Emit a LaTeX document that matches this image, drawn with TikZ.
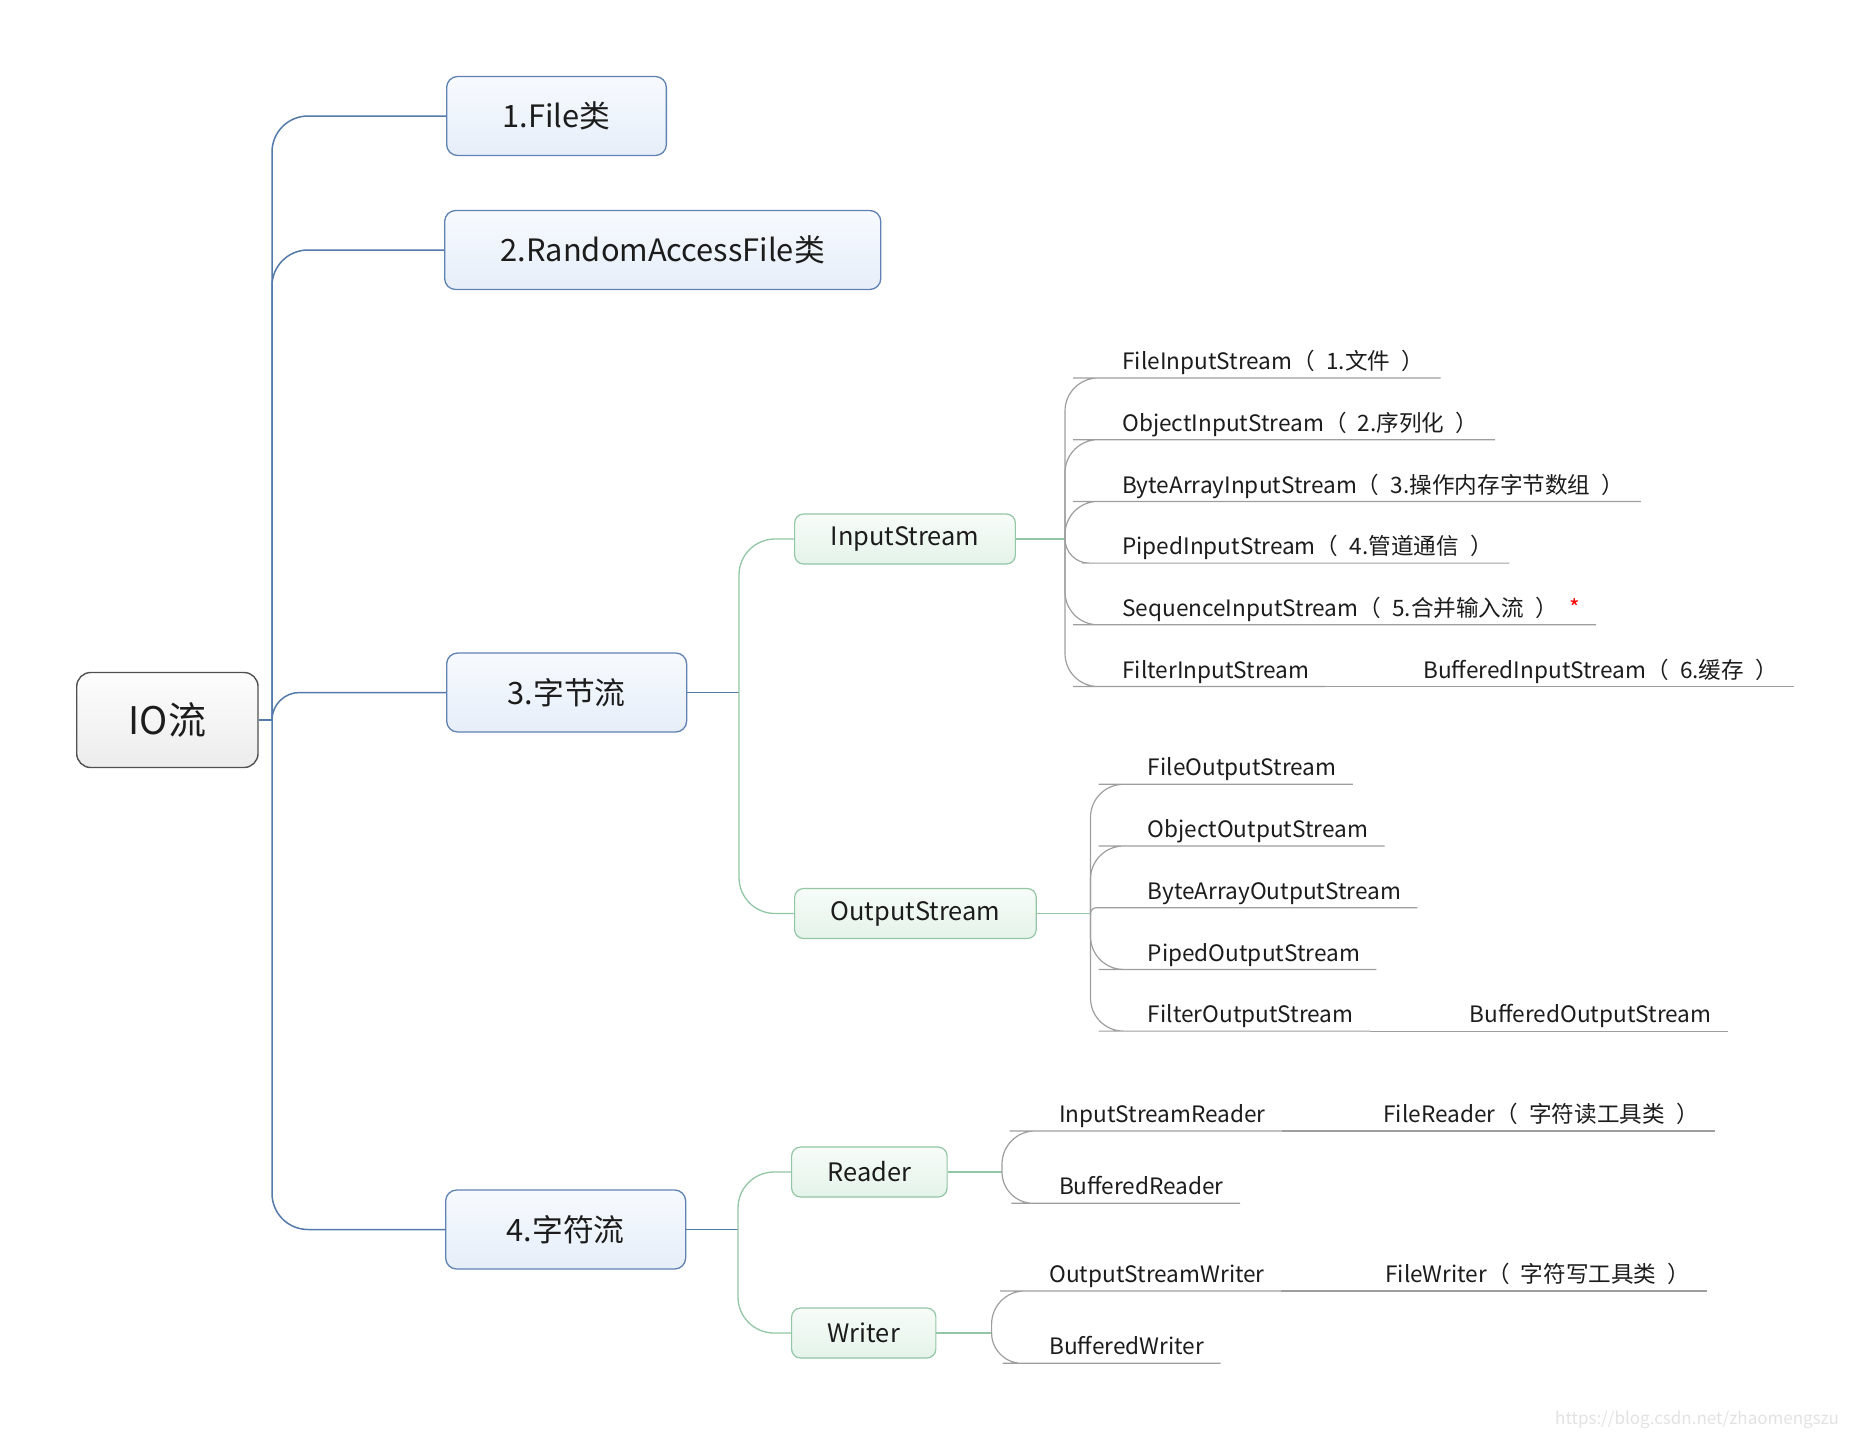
\documentclass[tikz,border=0pt]{standalone}
\usepackage{fontspec}
\setmainfont{Noto Sans CJK SC}
\definecolor{trunkblue}{RGB}{84,122,170}
\definecolor{topicline}{RGB}{96,130,178}
\definecolor{topictop}{RGB}{247,250,254}
\definecolor{topicbot}{RGB}{230,238,249}
\definecolor{rootline}{RGB}{80,80,80}
\definecolor{roottop}{RGB}{253,253,253}
\definecolor{rootbot}{RGB}{236,236,236}
\definecolor{subgreen}{RGB}{146,198,164}
\definecolor{subtop}{RGB}{247,252,248}
\definecolor{subbot}{RGB}{228,243,233}
\definecolor{leafgray}{RGB}{158,158,158}
\definecolor{inkdark}{RGB}{28,28,28}
\definecolor{markgray}{RGB}{226,226,226}
\newcommand\inparen[1]{（\enspace#1\enspace）}
\tikzset{
  rootbox/.style={draw=rootline, line width=0.7pt, rounded corners=7pt,
    top color=roottop, bottom color=rootbot, inner xsep=26pt,
    minimum height=47.5pt, anchor=west, text=inkdark,
    font=\fontsize{19}{22}\selectfont},
  topicbox/.style={draw=topicline, line width=0.65pt, rounded corners=5.5pt,
    top color=topictop, bottom color=topicbot, inner xsep=28pt,
    minimum height=39.5pt, anchor=west, text=inkdark,
    font=\fontsize{15.4}{18}\selectfont},
  subbox/.style={draw=subgreen, line width=0.6pt, rounded corners=4.5pt,
    top color=subtop, bottom color=subbot, inner xsep=18pt,
    minimum height=25pt, anchor=west, text=inkdark,
    font=\fontsize{12.7}{15}\selectfont},
  leaf/.style={anchor=south west, inner xsep=8pt, inner ysep=0pt,
    text height=9pt, text depth=4pt, text=inkdark,
    font=\fontsize{11.3}{14}\selectfont},
  trunkline/.style={draw=trunkblue, line width=0.75pt},
  subline/.style={draw=subgreen, line width=0.65pt},
  leafline/.style={draw=leafgray, line width=0.6pt},
}
\begin{document}
\begin{tikzpicture}[x=0.5pt, y=-0.5pt]
  \useasboundingbox (0,0) rectangle (1852,1440);
  % root and main topics
  \node[rootbox] (io) at (76,720) {IO流};
  \coordinate (ioj) at (272,720);
  \draw[trunkline] (io.east) -- (ioj);
  \node[topicbox] (file) at (446,116) {1.File类};
  \node[topicbox] (raf) at (444,250) {2.RandomAccessFile类};
  \node[topicbox, minimum width=120pt] (byte) at (446,692.5) {3.字节流};
  \node[topicbox, minimum width=120pt] (char) at (445,1229.5) {4.字符流};
  \foreach \t/\ty in {file/116, raf/250, byte/692.5, char/1229.5} {
    \pgfmathsetmacro\rad{min(18,abs(\ty-720)/2)}
    \draw[trunkline, rounded corners=\rad pt] (ioj) |- (\t.west);
  }

  % byte streams
  \coordinate (bytej) at (739,692.5);
  \draw[trunkline] (byte.east) -- (bytej);
  \node[subbox] (is) at (794,539) {InputStream};
  \node[subbox] (os) at (794,913.5) {OutputStream};
  \foreach \t/\ty in {is/539, os/913.5} {
    \pgfmathsetmacro\rad{min(18,abs(\ty-692.5)/2)}
    \draw[subline, rounded corners=\rad pt] (bytej) |- (\t.west);
  }

  % char streams
  \coordinate (charj) at (738,1229.5);
  \draw[trunkline] (char.east) -- (charj);
  \node[subbox] (rd) at (791,1172) {Reader};
  \node[subbox] (wr) at (791,1333) {Writer};
  \foreach \t/\ty in {rd/1172, wr/1333} {
    \pgfmathsetmacro\rad{min(18,abs(\ty-1229.5)/2)}
    \draw[subline, rounded corners=\rad pt] (charj) |- (\t.west);
  }

  % InputStream leaves
  \coordinate (isj) at (1065,539);
  \draw[subline] (is.east) -- (isj);
  \foreach \ly/\n/\txt in {378/fis/{FileInputStream\inparen{1.文件}},
      439.7/ois/{ObjectInputStream\inparen{2.序列化}},
      501.4/bis/{ByteArrayInputStream\inparen{3.操作内存字节数组}},
      563.1/pis/{PipedInputStream\inparen{4.管道通信}},
      624.8/sis/{SequenceInputStream\inparen{5.合并输入流}\enspace\textcolor{red}{*}},
      686.5/filis/{FilterInputStream}} {
    \node[leaf] (\n) at (1106,\ly) {\txt};
    \pgfmathsetmacro\rad{min(16.5,abs(\ly-539)/2)}
    \draw[leafline, rounded corners=\rad pt] (isj) |- (\n.south west) -- (\n.south east);
  }
  \node[leaf] (bufis) at (1407,686.5) {BufferedInputStream\inparen{6.缓存}};
  \draw[leafline] (filis.south east) -- (bufis.south west) -- (bufis.south east);

  % OutputStream leaves
  \coordinate (osj) at (1090.5,913.5);
  \draw[subline] (os.east) -- (osj);
  \foreach \ly/\n/\txt in {784.3/fos/FileOutputStream,
      846/oos/ObjectOutputStream, 907.7/baos/ByteArrayOutputStream,
      969.4/pos/PipedOutputStream, 1031.1/filos/FilterOutputStream} {
    \node[leaf] (\n) at (1131.5,\ly) {\txt};
    \pgfmathsetmacro\rad{min(16.5,abs(\ly-913.5)/2)}
    \draw[leafline, rounded corners=\rad pt] (osj) |- (\n.south west) -- (\n.south east);
  }
  \node[leaf] (bufos) at (1453.5,1031.1) {BufferedOutputStream};
  \draw[leafline] (filos.south east) -- (bufos.south west) -- (bufos.south east);

  % Reader leaves
  \coordinate (rdj) at (1002,1172);
  \draw[subline] (rd.east) -- (rdj);
  \foreach \ly/\n/\txt in {1131/isr/InputStreamReader, 1203.3/brd/BufferedReader} {
    \node[leaf] (\n) at (1042.6,\ly) {\txt};
    \pgfmathsetmacro\rad{min(16.5,abs(\ly-1172)/2)}
    \draw[leafline, rounded corners=\rad pt] (rdj) |- (\n.south west) -- (\n.south east);
  }
  \node[leaf] (frd) at (1367,1131) {FileReader\inparen{字符读工具类}};
  \draw[leafline] (isr.south east) -- (frd.south west) -- (frd.south east);

  % Writer leaves
  \coordinate (wrj) at (991.6,1333);
  \draw[subline] (wr.east) -- (wrj);
  \foreach \ly/\n/\txt in {1291/osw/OutputStreamWriter, 1363.3/bwr/BufferedWriter} {
    \node[leaf] (\n) at (1033,\ly) {\txt};
    \pgfmathsetmacro\rad{min(16.5,abs(\ly-1333)/2)}
    \draw[leafline, rounded corners=\rad pt] (wrj) |- (\n.south west) -- (\n.south east);
  }
  \node[leaf] (fwr) at (1369,1291) {FileWriter\inparen{字符写工具类}};
  \draw[leafline] (osw.south east) -- (fwr.south west) -- (fwr.south east);

  \node[anchor=east, text=markgray, font=\fontsize{8.5}{10}\selectfont] (mark)
    at (1846,1420) {https://blog.csdn.net/zhaomengszu};
\end{tikzpicture}
\end{document}
